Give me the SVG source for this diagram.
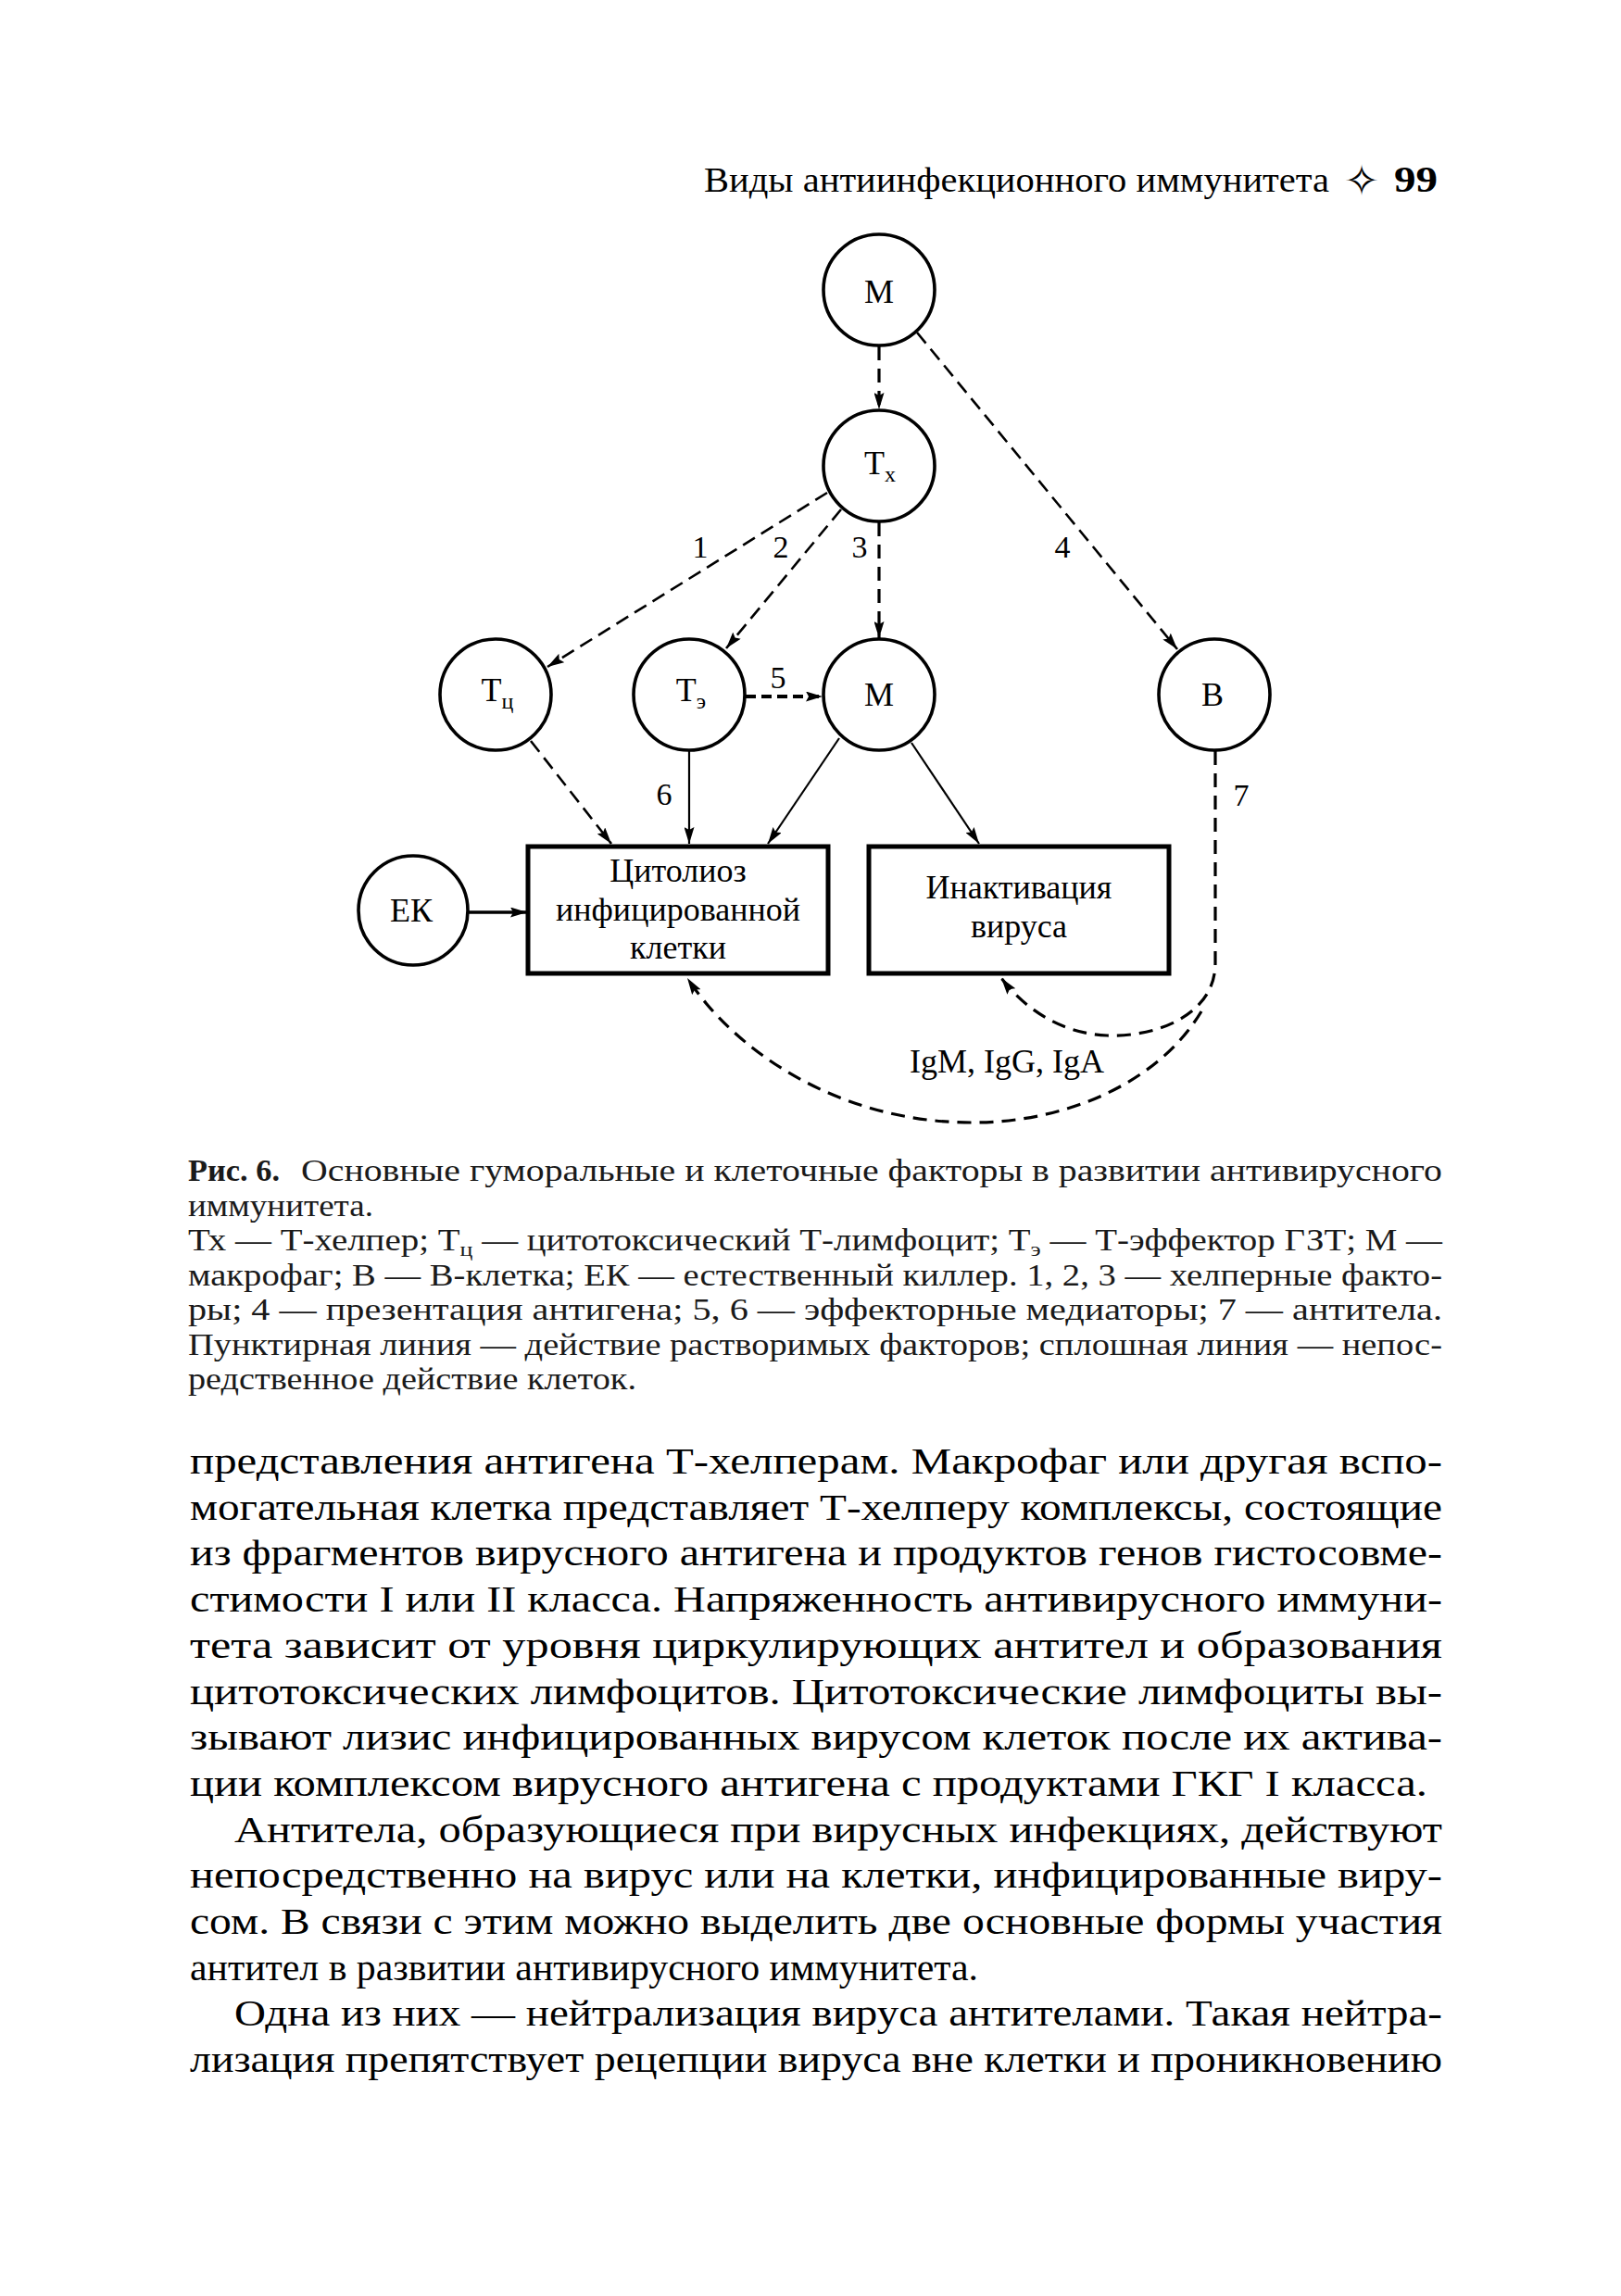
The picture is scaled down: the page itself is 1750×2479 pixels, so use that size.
<svg xmlns="http://www.w3.org/2000/svg" width="1750" height="2479" viewBox="0 0 1750 2479">
<style>
.bg{fill:#fff}
.node{fill:#fff;stroke:#000;stroke-width:3.6}
.box{fill:#fff;stroke:#000;stroke-width:5}
.lbl{font-family:'Liberation Serif',serif;font-size:36px;fill:#000}
.sub{font-size:24px}
.num{font-family:'Liberation Serif',serif;font-size:34px;fill:#000}
.dash{fill:none;stroke:#000;stroke-width:2.6;stroke-dasharray:15 8}
.dashv{fill:none;stroke:#000;stroke-width:3.2;stroke-dasharray:15 9}
.solid{fill:none;stroke:#000;stroke-width:2.2}
.hdr{font-family:'Liberation Serif',serif;font-size:38px;fill:#000}
.cap{font-family:'Liberation Serif',serif;font-size:33px;fill:#1a1a1a}
.body{font-family:'Liberation Serif',serif;font-size:40px;fill:#000}
</style>
<defs>
<marker id="ah" viewBox="0 0 18 11" refX="18" refY="5.5" markerWidth="18" markerHeight="11" markerUnits="userSpaceOnUse" orient="auto">
<path d="M0,0 L18,5.5 L0,11 L3,5.5 z" fill="#000"/>
</marker>
</defs>
<rect class="bg" x="0" y="0" width="1750" height="2479"/>

<g id="header">
<text class="hdr" x="760" y="207" textLength="675" lengthAdjust="spacingAndGlyphs">Виды антиинфекционного иммунитета</text>
<text x="1470" y="211" text-anchor="middle" font-family="DejaVu Sans, sans-serif" font-size="46">✧</text>
<text x="1505" y="207" font-family="Liberation Serif, serif" font-weight="bold" font-size="40" textLength="47" lengthAdjust="spacingAndGlyphs">99</text>
</g>

<g id="connectors">
<line class="dashv" x1="949" y1="374" x2="949" y2="442" marker-end="url(#ah)"/>
<line class="dash" x1="990" y1="359" x2="1271" y2="701" marker-end="url(#ah)"/>
<line class="dash" x1="893" y1="532" x2="591" y2="720" marker-end="url(#ah)"/>
<line class="dash" x1="908" y1="550" x2="784" y2="700" marker-end="url(#ah)"/>
<line class="dashv" x1="949" y1="564" x2="949" y2="689" marker-end="url(#ah)"/>
<line fill="none" stroke="#000" stroke-width="4" stroke-dasharray="11 6" x1="805" y1="752" x2="888" y2="752" marker-end="url(#ah)"/>
<line class="dash" x1="573" y1="800" x2="660" y2="911" marker-end="url(#ah)"/>
<line class="solid" x1="744" y1="811" x2="744" y2="911" marker-end="url(#ah)"/>
<line class="solid" x1="906" y1="797" x2="829" y2="911" marker-end="url(#ah)"/>
<line class="solid" x1="984" y1="802" x2="1057" y2="911" marker-end="url(#ah)"/>
<line fill="none" stroke="#000" stroke-width="3.6" x1="505" y1="985" x2="569" y2="985" marker-end="url(#ah)"/>
<path class="dashv" d="M1312,811 L1312,1040 C1312,1095 1250,1120 1195,1118 C1145,1116 1105,1088 1081,1056" marker-end="url(#ah)"/>
<path class="dashv" d="M1297,1092 C1250,1170 1150,1212 1050,1212 C900,1212 790,1130 742,1056" marker-end="url(#ah)"/>
</g>

<g id="conn-labels">
<text class="num" x="756" y="602" text-anchor="middle">1</text>
<text class="num" x="843" y="602" text-anchor="middle">2</text>
<text class="num" x="928" y="602" text-anchor="middle">3</text>
<text class="num" x="1147" y="602" text-anchor="middle">4</text>
<text class="num" x="840" y="743" text-anchor="middle">5</text>
<text class="num" x="717" y="869" text-anchor="middle">6</text>
<text class="num" x="1340" y="870" text-anchor="middle">7</text>
<text class="lbl" x="1087" y="1158" text-anchor="middle">IgM, IgG, IgA</text>
</g>

<g id="node-M-top">
<circle class="node" cx="949" cy="313" r="60"/>
<text class="lbl" x="949" y="327" text-anchor="middle">М</text>
</g>
<g id="node-Tx">
<circle class="node" cx="949" cy="503" r="60"/>
<text class="lbl" x="950" y="512" text-anchor="middle">Т<tspan class="sub" dy="8">х</tspan></text>
</g>
<g id="node-Tc">
<circle class="node" cx="535" cy="750" r="60"/>
<text class="lbl" x="537" y="757" text-anchor="middle">Т<tspan class="sub" dy="8">ц</tspan></text>
</g>
<g id="node-Te">
<circle class="node" cx="744" cy="750" r="60"/>
<text class="lbl" x="746" y="757" text-anchor="middle">Т<tspan class="sub" dy="8">э</tspan></text>
</g>
<g id="node-M-mid">
<circle class="node" cx="949" cy="750" r="60"/>
<text class="lbl" x="949" y="762" text-anchor="middle">М</text>
</g>
<g id="node-B">
<circle class="node" cx="1311" cy="750" r="60"/>
<text class="lbl" x="1309" y="762" text-anchor="middle">В</text>
</g>
<g id="node-EK">
<circle class="node" cx="446" cy="983" r="59"/>
<text class="lbl" x="444" y="995" text-anchor="middle">ЕК</text>
</g>
<g id="node-cytolysis">
<rect class="box" x="570" y="914" width="324" height="137"/>
<text class="lbl" x="732" y="952" text-anchor="middle">Цитолиоз</text>
<text class="lbl" x="732" y="994" text-anchor="middle">инфицированной</text>
<text class="lbl" x="732" y="1035" text-anchor="middle">клетки</text>
</g>
<g id="node-inactivation">
<rect class="box" x="938" y="914" width="324" height="137"/>
<text class="lbl" x="1100" y="970" text-anchor="middle">Инактивация</text>
<text class="lbl" x="1100" y="1012" text-anchor="middle">вируса</text>
</g>

<g id="caption">
<text class="cap" x="203" y="1275" font-weight="bold" textLength="99" lengthAdjust="spacingAndGlyphs">Рис. 6.</text>
<text class="cap" x="325" y="1275" textLength="1232" lengthAdjust="spacingAndGlyphs">Основные гуморальные и клеточные факторы в развитии антивирусного</text>
<text class="cap" x="203" y="1312.5" textLength="200" lengthAdjust="spacingAndGlyphs">иммунитета.</text>
<text class="cap" x="203" y="1350" textLength="1354" lengthAdjust="spacingAndGlyphs">Тх — Т-хелпер; Т<tspan font-size="22" dy="6">ц</tspan><tspan dy="-6"> — цитотоксический Т-лимфоцит; Т</tspan><tspan font-size="22" dy="6">э</tspan><tspan dy="-6"> — Т-эффектор ГЗТ; М —</tspan></text>
<text class="cap" x="203" y="1387.5" textLength="1354" lengthAdjust="spacingAndGlyphs">макрофаг; В — В-клетка; ЕК — естественный киллер. 1, 2, 3 — хелперные факто-</text>
<text class="cap" x="203" y="1425" textLength="1354" lengthAdjust="spacingAndGlyphs">ры; 4 — презентация антигена; 5, 6 — эффекторные медиаторы; 7 — антитела.</text>
<text class="cap" x="203" y="1462.5" textLength="1354" lengthAdjust="spacingAndGlyphs">Пунктирная линия — действие растворимых факторов; сплошная линия — непос-</text>
<text class="cap" x="203" y="1500" textLength="484" lengthAdjust="spacingAndGlyphs">редственное действие клеток.</text>
</g>

<g id="body-text">
<text class="body" x="205" y="1591" textLength="1352" lengthAdjust="spacingAndGlyphs">представления антигена Т-хелперам. Макрофаг или другая вспо-</text>
<text class="body" x="205" y="1640.7" textLength="1352" lengthAdjust="spacingAndGlyphs">могательная клетка представляет Т-хелперу комплексы, состоящие</text>
<text class="body" x="205" y="1690.4" textLength="1352" lengthAdjust="spacingAndGlyphs">из фрагментов вирусного антигена и продуктов генов гистосовме-</text>
<text class="body" x="205" y="1740.1" textLength="1352" lengthAdjust="spacingAndGlyphs">стимости I или II класса. Напряженность антивирусного иммуни-</text>
<text class="body" x="205" y="1789.8" textLength="1352" lengthAdjust="spacingAndGlyphs">тета зависит от уровня циркулирующих антител и образования</text>
<text class="body" x="205" y="1839.5" textLength="1352" lengthAdjust="spacingAndGlyphs">цитотоксических лимфоцитов. Цитотоксические лимфоциты вы-</text>
<text class="body" x="205" y="1889.2" textLength="1352" lengthAdjust="spacingAndGlyphs">зывают лизис инфицированных вирусом клеток после их актива-</text>
<text class="body" x="205" y="1938.9" textLength="1336" lengthAdjust="spacingAndGlyphs">ции комплексом вирусного антигена с продуктами ГКГ I класса.</text>
<text class="body" x="253" y="1988.6" textLength="1304" lengthAdjust="spacingAndGlyphs">Антитела, образующиеся при вирусных инфекциях, действуют</text>
<text class="body" x="205" y="2038.3" textLength="1352" lengthAdjust="spacingAndGlyphs">непосредственно на вирус или на клетки, инфицированные виру-</text>
<text class="body" x="205" y="2088" textLength="1352" lengthAdjust="spacingAndGlyphs">сом. В связи с этим можно выделить две основные формы участия</text>
<text class="body" x="205" y="2137.7" textLength="851" lengthAdjust="spacingAndGlyphs">антител в развитии антивирусного иммунитета.</text>
<text class="body" x="253" y="2187.4" textLength="1304" lengthAdjust="spacingAndGlyphs">Одна из них — нейтрализация вируса антителами. Такая нейтра-</text>
<text class="body" x="205" y="2237.1" textLength="1352" lengthAdjust="spacingAndGlyphs">лизация препятствует рецепции вируса вне клетки и проникновению</text>
</g>
</svg>
